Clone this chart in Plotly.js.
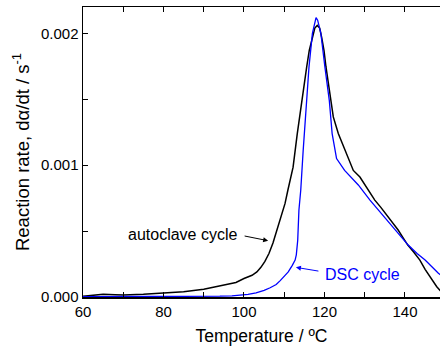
<!DOCTYPE html>
<html>
<head>
<meta charset="utf-8">
<script src="https://cdn.plot.ly/plotly-3.0.1.min.js"></script>
<style>html,body{margin:0;padding:0;background:#fff;overflow:hidden}</style>
</head>
<body>
<div id="chart" style="width:440px;height:348px"></div>
<script>
// Autoclave cycle (black)
const autoclaveT = [60, 62, 65, 68, 70, 75, 80, 85, 90, 95, 98, 100, 101, 102, 103.2, 104.2, 105.2, 106.2, 107.2, 108.2, 109.2, 110.2, 110.9, 112.2, 113.24, 114.33, 115.58, 116.22, 117, 117.6, 118.2, 118.8, 119.3, 119.88, 120.37, 121.54, 122.19, 123.43, 125.09, 126.76, 127.16, 128.8, 130, 131, 132.5, 134, 135.5, 137, 138.3, 139.5, 140.7, 142.2, 143.7, 145, 146.2, 147.9, 149, 150];
const autoclaveRate = [0.000005, 0.000012, 0.00002, 0.000018, 0.000015, 0.00002, 0.000028, 0.00004, 0.000058, 0.00009, 0.00011, 0.00014, 0.00015, 0.000165, 0.00019, 0.000225, 0.00027, 0.00033, 0.00041, 0.00051, 0.00061, 0.00071, 0.00081, 0.000985, 0.00124, 0.00149, 0.001745, 0.00187, 0.00198, 0.00204, 0.00206, 0.00204, 0.00197, 0.00187, 0.001745, 0.00149, 0.001366, 0.00124, 0.00111, 0.000987, 0.00096, 0.00091, 0.00085, 0.0008, 0.000735, 0.00068, 0.00062, 0.00056, 0.000508, 0.00045, 0.000394, 0.00034, 0.00028, 0.00021, 0.000154, 0.000078, 0.00004, 0.00002];

// DSC cycle (blue)
const dscT = [60, 70, 80, 88, 94, 97, 99, 101, 103, 104, 105, 106.5, 108, 109, 110, 111, 112, 112.7, 113, 113.35, 113.65, 114.1, 114.7, 115.6, 116.15, 117, 117.5, 117.9, 118.3, 119.1, 120.1, 121.2, 121.9, 123.0, 125, 128.4, 131.3, 134.5, 137.5, 140.8, 143, 145, 148.3, 150];
const dscRate = [0.000002, 0.000002, 0.000003, 0.000004, 0.000006, 0.000009, 0.000012, 0.00002, 0.000032, 0.00004, 0.00005, 0.00007, 0.000095, 0.000124, 0.000155, 0.00019, 0.00024, 0.00028, 0.00032, 0.00043, 0.00066, 0.00081, 0.00111, 0.00149, 0.001745, 0.002, 0.00208, 0.00212, 0.0021, 0.002, 0.001745, 0.00149, 0.00124, 0.00105, 0.00096, 0.00085, 0.000735, 0.00062, 0.000508, 0.000394, 0.00033, 0.00028, 0.00018, 0.00014];

const xTickVals = [60, 70, 80, 90, 100, 110, 120, 130, 140, 150];
const xTickText = ['60', '', '80', '', '100', '', '120', '', '140', ''];
const yTickVals = [0, 0.0005, 0.001, 0.0015, 0.002];
const yTickText = ['0.000', '', '0.001', '', '0.002'];

const FONT = 'Liberation Sans, Arial, sans-serif';

const traces = [
  {x: autoclaveT, y: autoclaveRate, mode: 'lines', line: {color: '#000000', width: 1.5}, hoverinfo: 'skip'},
  {x: dscT, y: dscRate, mode: 'lines', line: {color: '#0000ff', width: 1.3}, hoverinfo: 'skip'}
];

const layout = {
  width: 440, height: 348,
  margin: {l: 83, r: 0, t: 7, b: 51},
  paper_bgcolor: '#fff', plot_bgcolor: '#fff',
  showlegend: false,
  font: {family: FONT, size: 15, color: '#000'},
  xaxis: {
    range: [60, 148.7],
    tickvals: xTickVals, ticktext: xTickText,
    ticks: 'inside', ticklen: 5, tickwidth: 1, tickcolor: '#000',
    showline: true, linecolor: '#000', linewidth: 1.5, mirror: 'ticks',
    showgrid: false, zeroline: false,
    tickfont: {family: FONT, size: 15},
    title: {text: 'Temperature / ºC', font: {family: FONT, size: 17.5}, standoff: 11}
  },
  yaxis: {
    range: [0, 0.0022],
    tickvals: yTickVals, ticktext: yTickText,
    ticks: 'inside', ticklen: 5, tickwidth: 1, tickcolor: '#000',
    showline: true, linecolor: '#000', linewidth: 1.5, mirror: false,
    showgrid: false, zeroline: false,
    tickfont: {family: FONT, size: 15},
    title: {text: 'Reaction rate, dα/dt / s<sup>-1</sup>', font: {family: FONT, size: 18.5}, standoff: 6}
  },
  annotations: [
    {x: 84.7, y: 0.000477, xref: 'x', yref: 'y', text: 'autoclave cycle', showarrow: false, font: {family: FONT, size: 16, color: '#000'}},
    {x: 106.0, y: 0.000427, xref: 'x', yref: 'y', text: '', showarrow: true, ax: -25, ay: -5, arrowhead: 2, arrowsize: 1, arrowwidth: 1, arrowcolor: '#000'},
    {x: 129.4, y: 0.000174, xref: 'x', yref: 'y', text: 'DSC cycle', showarrow: false, font: {family: FONT, size: 16, color: '#0000ff'}},
    {x: 112.9, y: 0.000225, xref: 'x', yref: 'y', text: '', showarrow: true, ax: 24, ay: 4, arrowhead: 2, arrowsize: 1, arrowwidth: 1, arrowcolor: '#0000ff'}
  ]
};

Plotly.newPlot('chart', traces, layout, {displayModeBar: false, staticPlot: true});
</script>
</body>
</html>
